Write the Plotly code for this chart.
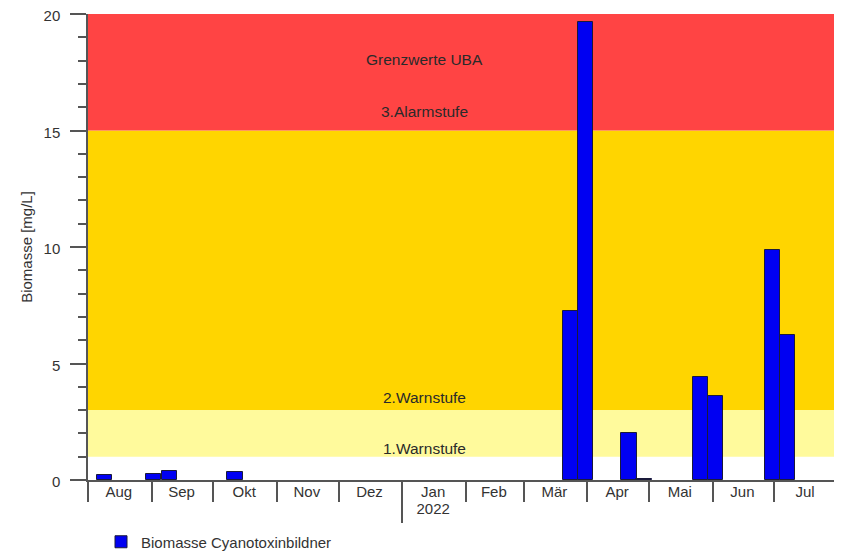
import plotly.graph_objects as go

# ---- data ----
sample_dates = ["2021-08-09", "2021-09-02", "2021-09-09 16:00", "2021-10-11 12:00",
                "2022-03-23 19:00", "2022-03-31 02:00", "2022-04-21 07:00", "2022-04-28 14:00",
                "2022-05-26", "2022-06-02 10:00", "2022-06-30 02:00", "2022-07-07 10:00"]
biomass = [0.21, 0.25, 0.39, 0.33, 7.27, 19.67, 2.03, 0.04, 4.43, 3.62, 9.87, 6.22]
series_name = "Biomasse Cyanotoxinbildner"

month_bounds = ["2021-08-01", "2021-09-01", "2021-10-01", "2021-11-01", "2021-12-01",
                "2022-01-01", "2022-02-01", "2022-03-01", "2022-04-01", "2022-05-01",
                "2022-06-01", "2022-07-01", "2022-08-01"]
month_mids = ["2021-08-16", "2021-09-15 12:00", "2021-10-16", "2021-11-15 12:00", "2021-12-16",
              "2022-01-16", "2022-02-14 12:00", "2022-03-16", "2022-04-15 12:00", "2022-05-16",
              "2022-06-15 12:00", "2022-07-16"]
month_labels = ["Aug", "Sep", "Okt", "Nov", "Dez", "Jan", "Feb", "Mär", "Apr",
                "Mai", "Jun", "Jul"]
year_tick = ["2022-01-01"]
year_label_pos = ["2022-01-16"]
year_label = ["2022"]

band_limits = [(1, 3), (3, 15), (15, 20)]
band_colors = ["#FFFA9C", "#FFD500", "#FF4444"]
band_texts = ["Grenzwerte UBA", "3.Alarmstufe", "2.Warnstufe", "1.Warnstufe"]
band_text_y = [18.03, 15.8, 3.56, 1.37]

y_ticks = [0, 5, 10, 15, 20]

x_range = ["2021-08-01", "2022-08-01"]
DAY_MS = 86400000

FONT = "Liberation Sans, Arial, sans-serif"
AXIS_COL = "#555555"
TXT = "#333333"

# page body has an 8px margin -> figure is 8px smaller and margins shifted
W, H = 834, 543

fig = go.Figure()
fig.add_trace(go.Bar(
    x=sample_dates, y=biomass, name=series_name,
    width=[7.4 * DAY_MS] * len(biomass),
    marker=dict(color="#0000F2", line=dict(color="#1a1a3a", width=1)),
    showlegend=True,
))

shapes = []
for (lo, hi), col in zip(band_limits, band_colors):
    shapes.append(dict(type="rect", xref="paper", yref="y", x0=0, x1=1, y0=lo, y1=hi,
                       fillcolor=col, line=dict(width=0), layer="below"))

annotations = []
for t, yv in zip(band_texts, band_text_y):
    annotations.append(dict(text=t, xref="paper", yref="y", x=0.449, y=yv,
                            showarrow=False, font=dict(family=FONT, size=15.5, color="#2a2a2a")))

fig.update_layout(
    width=W, height=H,
    margin=dict(l=80, r=4, t=6, b=71, autoexpand=False),
    paper_bgcolor="white", plot_bgcolor="white",
    font=dict(family=FONT, size=15, color=TXT),
    bargap=0,
    shapes=shapes, annotations=annotations,
    showlegend=True,
    legend=dict(orientation="h", xref="container", x=93 / W, xanchor="left",
                yref="container", y=(H - 534) / H, yanchor="middle",
                font=dict(family=FONT, size=15, color=TXT), bgcolor="rgba(0,0,0,0)"),
    xaxis=dict(type="date", range=x_range, tickmode="array", tickvals=month_bounds,
               showticklabels=False, ticks="outside", ticklen=20, tickwidth=1.5,
               tickcolor=AXIS_COL, showline=True, linecolor=AXIS_COL, linewidth=1.5,
               showgrid=False, zeroline=False, fixedrange=True, automargin=False),
    xaxis2=dict(type="date", range=x_range, overlaying="x", side="bottom", anchor="y",
                tickmode="array", tickvals=month_mids, ticktext=month_labels,
                ticks="", ticklabelstandoff=1,
                showline=False, showgrid=False, zeroline=False, automargin=False,
                tickfont=dict(family=FONT, size=15, color=TXT)),
    xaxis3=dict(type="date", range=x_range, overlaying="x", side="bottom", anchor="y",
                tickmode="array", tickvals=year_tick, showticklabels=False,
                ticks="outside", ticklen=42, tickwidth=1.5, tickcolor=AXIS_COL,
                showline=False, showgrid=False, zeroline=False, automargin=False),
    xaxis4=dict(type="date", range=x_range, overlaying="x", side="bottom", anchor="y",
                tickmode="array", tickvals=year_label_pos, ticktext=year_label,
                ticks="", ticklabelstandoff=18,
                showline=False, showgrid=False, zeroline=False, automargin=False,
                tickfont=dict(family=FONT, size=15, color=TXT)),
    yaxis=dict(range=[0, 20], tickmode="array", tickvals=y_ticks,
               ticks="outside", ticklen=16, tickwidth=1.5, tickcolor=AXIS_COL,
               minor=dict(dtick=1, ticks="outside", ticklen=8, tickwidth=1.5, tickcolor=AXIS_COL,
                          showgrid=False),
               showline=True, linecolor=AXIS_COL, linewidth=1.5, automargin=False,
               showgrid=False, zeroline=False, ticklabelstandoff=7,
               ticklabeloverflow="allow", ticklabelshift=2,
               tickfont=dict(family=FONT, size=15, color=TXT),
               title=dict(text="Biomasse [mg/L]", font=dict(family=FONT, size=15, color=TXT),
                          standoff=7)),
)
# dummy traces to activate overlay axes
for ax in ["x2", "x3", "x4"]:
    fig.add_trace(go.Scatter(x=[x_range[0]], y=[None], xaxis=ax, yaxis="y", showlegend=False,
                             hoverinfo="skip"))

fig.write_html("out.html")
